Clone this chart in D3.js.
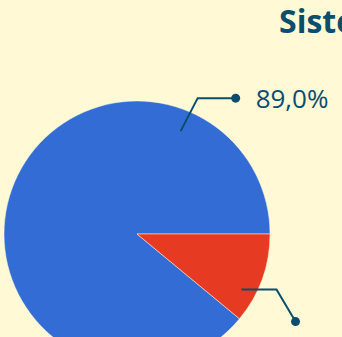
<!DOCTYPE html>
<html>
<head>
<meta charset="utf-8">
<script src="https://cdn.jsdelivr.net/npm/d3@7"></script>
<style>
  html, body { margin: 0; padding: 0; background: #fff9d6; overflow: hidden; }
  svg { display: block; font-family: "Open Sans", "Noto Sans", sans-serif; }
</style>
</head>
<body>
<div id="chart"></div>
<script>
const categories = ["Sì", "No"];
const values = [89.0, 11.0];
const colors = ["#346cd6", "#e63a23"];
const title = "Sistema";

const width = 342, height = 337;
const cx = 137, cy = 234, radius = 133;
const ink = "#0b4d6c";

// where each label leader starts (angle in degrees from 12 o'clock, fraction of radius)
// and how it bends out to the dot
const labelLayout = [
  { angle: 23, r: 0.84, elbow: [17, -33], dot: [55, -33], text: [20, 10] },
  { angle: 118, r: 0.89, elbow: [35, 0], dot: [54, 32], text: [20, 40] }
];

const svg = d3.select("#chart")
  .append("svg")
  .attr("width", width)
  .attr("height", height);

svg.append("rect")
  .attr("width", width)
  .attr("height", height)
  .attr("fill", "#fff9d6");

svg.append("text")
  .attr("x", 279)
  .attr("y", 33)
  .attr("fill", ink)
  .attr("font-size", 32)
  .attr("font-weight", 700)
  .text(title);

const pie = d3.pie()
  .sort(null)
  .value(d => d)
  .startAngle(Math.PI / 2 + values[1] / 100 * 2 * Math.PI)
  .endAngle(Math.PI / 2 + values[1] / 100 * 2 * Math.PI + 2 * Math.PI);

const arc = d3.arc().innerRadius(0).outerRadius(radius);

const g = svg.append("g").attr("transform", `translate(${cx},${cy})`);

g.selectAll("path")
  .data(pie(values))
  .join("path")
  .attr("d", arc)
  .attr("fill", (d, i) => colors[i])
  .attr("stroke", "#fff9d6")
  .attr("stroke-width", 0.5);

const fmt = v => d3.format(".1f")(v).replace(".", ",") + "%";

labelLayout.forEach((l, i) => {
  const a = l.angle * Math.PI / 180;
  const x0 = Math.sin(a) * radius * l.r;
  const y0 = -Math.cos(a) * radius * l.r;
  const x1 = x0 + l.elbow[0], y1 = y0 + l.elbow[1];
  const x2 = x0 + l.dot[0], y2 = y0 + l.dot[1];

  g.append("path")
    .attr("d", d3.line()([[x0, y0], [x1, y1], [x2, y2]]))
    .attr("fill", "none")
    .attr("stroke", ink)
    .attr("stroke-width", 2);

  g.append("circle")
    .attr("cx", x2)
    .attr("cy", y2)
    .attr("r", 4.5)
    .attr("fill", ink);

  g.append("text")
    .attr("x", x2 + l.text[0])
    .attr("y", y2 + l.text[1])
    .attr("fill", ink)
    .attr("font-size", 26)
    .text(fmt(values[i]));
});
</script>
</body>
</html>
